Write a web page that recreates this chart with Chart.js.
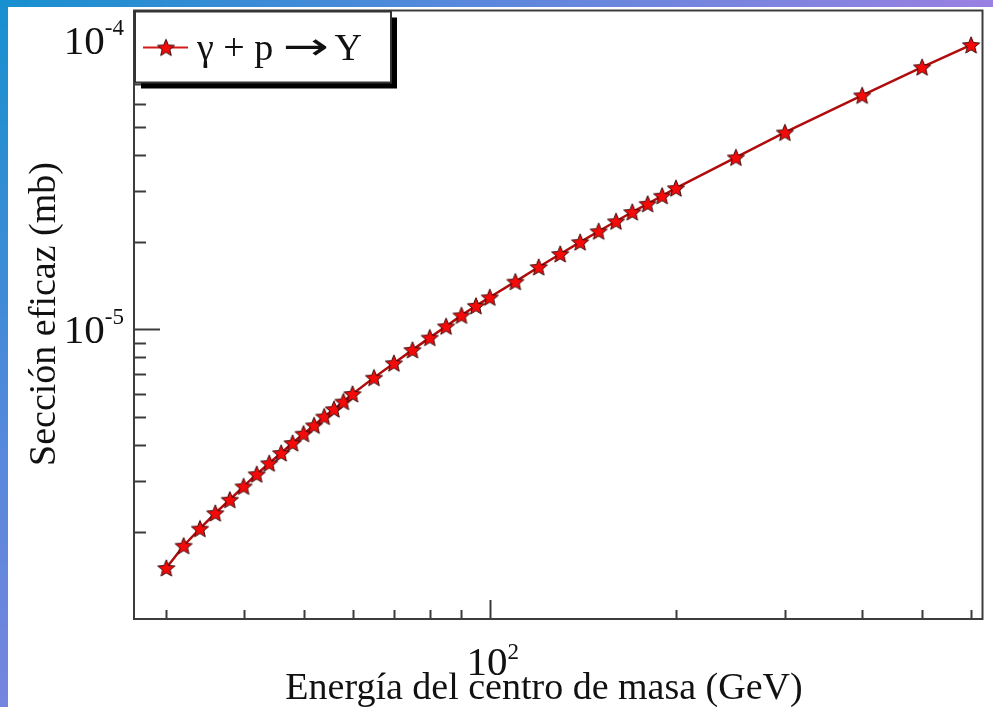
<!DOCTYPE html>
<html>
<head>
<meta charset="utf-8">
<script src="https://cdn.jsdelivr.net/npm/chart.js@4.4.0/dist/chart.umd.min.js"></script>
<style>
  html, body { margin: 0; padding: 0; background: #fff; }
  #frame {
    position: relative; width: 993px; height: 707px; overflow: hidden;
    background: radial-gradient(circle at 0 0, #1790cf 0px, #5a88dc 480px, #9a80e2 1000px);
  }
  #paper { position: absolute; left: 8px; top: 7px; right: 0; bottom: 0; background: #fff; }
  #chart { position: absolute; left: 0; top: 0; }
</style>
</head>
<body>
<div id="frame">
  <div id="paper"></div>
  <canvas id="chart" width="993" height="707"></canvas>
</div>
<script>
// Centre-of-mass energy (GeV) and cross section (mb)
const energies = [30, 32, 34, 36, 38, 40, 42, 44, 46, 48, 50, 52, 54, 56, 58, 60,
    65, 70, 75, 80, 85, 90, 95, 100,
    110, 120, 130, 140, 150, 160, 170, 180, 190, 200,
    250, 300, 400, 500, 600];
const crossSections = [1.50e-6, 1.79e-6, 2.05e-6, 2.32e-6, 2.58e-6, 2.87e-6, 3.16e-6, 3.45e-6,
    3.74e-6, 4.05e-6, 4.36e-6, 4.66e-6, 5.00e-6, 5.30e-6, 5.63e-6, 5.98e-6,
    6.81e-6, 7.64e-6, 8.49e-6, 9.36e-6, 1.024e-5, 1.117e-5, 1.205e-5, 1.29e-5,
    1.46e-5, 1.64e-5, 1.82e-5, 2.00e-5, 2.18e-5, 2.36e-5, 2.54e-5, 2.71e-5, 2.89e-5, 3.07e-5,
    3.92e-5, 4.78e-5, 6.42e-5, 8.03e-5, 9.58e-5];

const seriesLabel = 'γ + p → Y';
const xTitle = 'Energía del centro de masa (GeV)';
const yTitle = 'Sección eficaz (mb)';

// axis ticks (log scale), majors get a power-of-ten label
const xTicks = [30, 40, 50, 60, 70, 80, 90, 100, 200, 300, 400, 500, 600];
const xMajorTicks = [100];
const yTicks = [2e-6, 3e-6, 4e-6, 5e-6, 6e-6, 7e-6, 8e-6, 9e-6, 1e-5,
    2e-5, 3e-5, 4e-5, 5e-5, 6e-5, 7e-5, 8e-5, 9e-5, 1e-4];
const yMajorTicks = [1e-5, 1e-4];

const xRange = [26.6, 626];
const yRange = [1e-6, 1.26e-4];

const SERIF = '"Liberation Serif", "DejaVu Serif", serif';

function makeStar(outer, inner, fill, stroke) {
    const size = Math.ceil(outer * 2 + 4);
    const c = document.createElement('canvas');
    c.width = size; c.height = size;
    const g = c.getContext('2d');
    const cx = size / 2, cy = size / 2 + 0.8;
    g.beginPath();
    for (let i = 0; i < 10; i++) {
        const r = i % 2 === 0 ? outer : inner;
        const ang = -Math.PI / 2 + i * Math.PI / 5;
        const px = cx + r * Math.cos(ang), py = cy + r * Math.sin(ang);
        if (i === 0) g.moveTo(px, py); else g.lineTo(px, py);
    }
    g.closePath();
    g.fillStyle = fill;
    g.fill();
    g.lineWidth = 1;
    g.strokeStyle = stroke;
    g.stroke();
    return c;
}

const starMark = makeStar(9, 4, '#f50a0a', '#3a0a0a');

function drawPower(ctx, base, exp, x, y, align, baseSize, expSize, expRise) {
    ctx.font = baseSize + 'px ' + SERIF;
    const wb = ctx.measureText(base).width;
    ctx.font = expSize + 'px ' + SERIF;
    const we = ctx.measureText(exp).width;
    let left = x;
    if (align === 'right') left = x - wb - we;
    if (align === 'center') left = x - (wb + we) / 2;
    ctx.textAlign = 'left';
    ctx.textBaseline = 'alphabetic';
    ctx.font = baseSize + 'px ' + SERIF;
    ctx.fillText(base, left, y);
    ctx.font = expSize + 'px ' + SERIF;
    ctx.fillText(exp, left + wb, y - expRise);
}

// legend text: the arrow is drawn wider, like the Symbol-font arrow of the original
function drawLabel(ctx, text, x, y) {
    const parts = text.split('→');
    ctx.textAlign = 'left';
    ctx.textBaseline = 'alphabetic';
    ctx.font = '38px ' + SERIF;
    ctx.fillText(parts[0], x, y);
    if (parts.length < 2) return;
    let cx = x + ctx.measureText(parts[0]).width;
    ctx.font = '38px "DejaVu Sans", sans-serif';
    const wa = ctx.measureText('→').width;
    ctx.save();
    ctx.translate(cx, y - 1);
    ctx.scale(1.45, 1);
    ctx.fillText('→', 0, 0);
    ctx.restore();
    cx += wa * 1.45 - 4;
    ctx.font = '38px ' + SERIF;
    ctx.fillText(parts[1], cx, y);
}

const framePlugin = {
    id: 'frame',
    beforeDatasetsDraw(chart) {
        const { ctx, chartArea: a } = chart;
        const xs = chart.scales.x, ys = chart.scales.y;
        ctx.save();
        ctx.strokeStyle = '#3c3c3c';
        ctx.lineWidth = 2;
        ctx.strokeRect(a.left, a.top, a.right - a.left, a.bottom - a.top);

        ctx.beginPath();
        xTicks.forEach(v => {
            const px = Math.round(xs.getPixelForValue(v)) + 0.5;
            const len = xMajorTicks.includes(v) ? 19 : 9;
            ctx.moveTo(px, a.bottom);
            ctx.lineTo(px, a.bottom - len);
        });
        yTicks.forEach(v => {
            const py = Math.round(ys.getPixelForValue(v)) + 0.5;
            const len = yMajorTicks.includes(v) ? 26 : 12;
            ctx.moveTo(a.left, py);
            ctx.lineTo(a.left + len, py);
        });
        ctx.stroke();

        // tick labels
        ctx.fillStyle = '#111';
        xMajorTicks.forEach(v => {
            const px = xs.getPixelForValue(v);
            drawPower(ctx, '10', String(Math.round(Math.log10(v))), px + 3, a.bottom + 56, 'center', 41, 23, 16);
        });
        yMajorTicks.forEach(v => {
            const py = ys.getPixelForValue(v);
            drawPower(ctx, '10', String(Math.round(Math.log10(v))), a.left - 10, py + 14, 'right', 41, 23, 19);
        });

        // axis titles
        ctx.font = '38px ' + SERIF;
        ctx.textAlign = 'center';
        ctx.textBaseline = 'alphabetic';
        ctx.fillText(xTitle, 544, 699);
        ctx.save();
        ctx.translate(55, 314);
        ctx.rotate(-Math.PI / 2);
        ctx.fillText(yTitle, 0, 0);
        ctx.restore();
        ctx.restore();
    },
    afterDraw(chart) {
        const { ctx, chartArea: a } = chart;
        const ds = chart.data.datasets[0];
        const bx = a.left + 1, by = a.top + 1, bw = 256, bh = 71;
        ctx.save();
        ctx.fillStyle = '#000';
        ctx.fillRect(bx + 6, by + 6, bw, bh);
        ctx.fillStyle = '#fff';
        ctx.fillRect(bx, by, bw, bh);
        ctx.strokeStyle = '#333';
        ctx.lineWidth = 2;
        ctx.strokeRect(bx, by, bw, bh);

        ctx.strokeStyle = '#d41a1a';
        ctx.lineWidth = 2;
        ctx.beginPath();
        ctx.moveTo(bx + 8, by + 36);
        ctx.lineTo(bx + 53, by + 36);
        ctx.stroke();
        ctx.drawImage(starMark, bx + 31 - starMark.width / 2, by + 36 - starMark.height / 2);

        ctx.fillStyle = '#111';
        drawLabel(ctx, ds.label, bx + 62, by + 48);
        ctx.restore();
    }
};

new Chart(document.getElementById('chart'), {
    type: 'line',
    data: {
        datasets: [{
            label: seriesLabel,
            data: energies.map((e, i) => ({ x: e, y: crossSections[i] })),
            borderColor: '#b00c0c',
            borderWidth: 2.5,
            tension: 0,
            pointStyle: starMark,
            pointRadius: 8,
            fill: false
        }]
    },
    options: {
        responsive: false,
        animation: false,
        layout: { padding: { left: 134, right: 3, top: 8, bottom: 88 } },
        plugins: { legend: { display: false }, tooltip: { enabled: false } },
        scales: {
            x: { type: 'logarithmic', min: xRange[0], max: xRange[1], display: false },
            y: { type: 'logarithmic', min: yRange[0], max: yRange[1], display: false }
        }
    },
    plugins: [framePlugin]
});
</script>
</body>
</html>
